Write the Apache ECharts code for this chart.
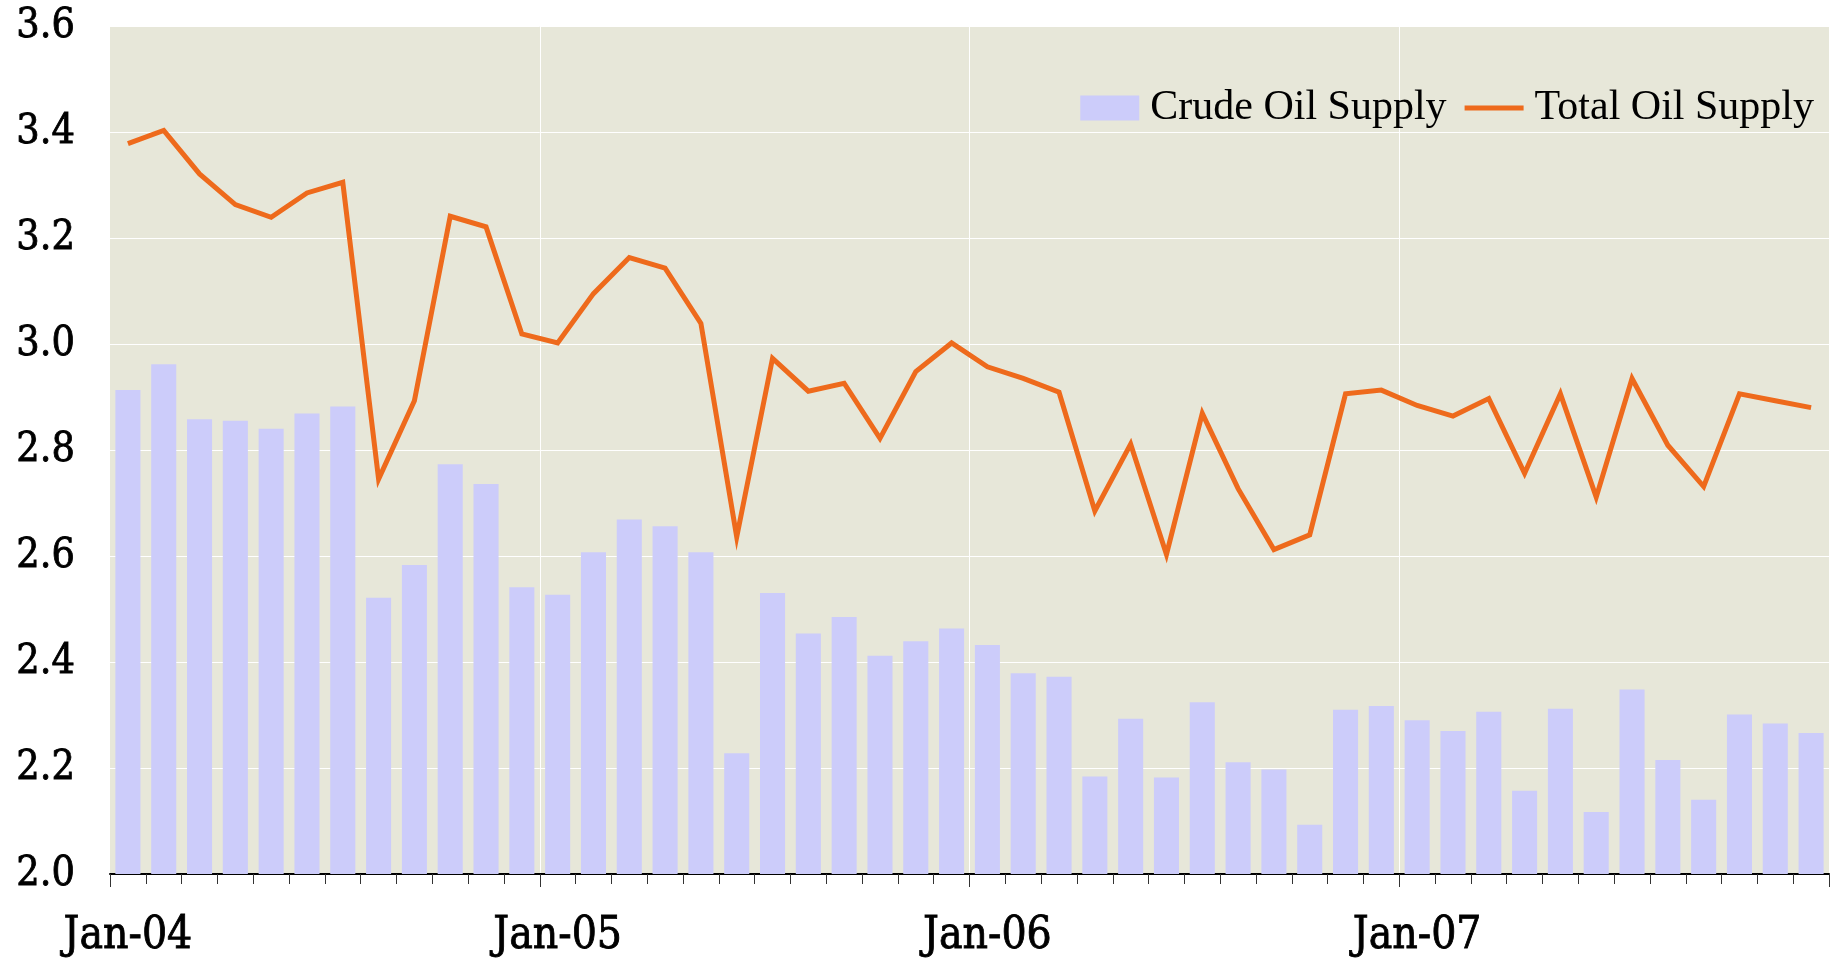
<!DOCTYPE html>
<html>
<head>
<meta charset="utf-8">
<script src="https://cdn.jsdelivr.net/npm/echarts@6/dist/echarts.min.js"></script>
<style>
html,body{margin:0;padding:0;background:#fff;}
#chart{width:1836px;height:959px;}
</style>
</head>
<body>
<div id="chart"></div>
<script>
const categories = [
 'Jan-04','Feb-04','Mar-04','Apr-04','May-04','Jun-04','Jul-04','Aug-04','Sep-04','Oct-04','Nov-04','Dec-04',
 'Jan-05','Feb-05','Mar-05','Apr-05','May-05','Jun-05','Jul-05','Aug-05','Sep-05','Oct-05','Nov-05','Dec-05',
 'Jan-06','Feb-06','Mar-06','Apr-06','May-06','Jun-06','Jul-06','Aug-06','Sep-06','Oct-06','Nov-06','Dec-06',
 'Jan-07','Feb-07','Mar-07','Apr-07','May-07','Jun-07','Jul-07','Aug-07','Sep-07','Oct-07','Nov-07','Dec-07'
];
const crudeOilSupply = [2.913,2.962,2.858,2.855,2.840,2.869,2.882,2.521,2.583,2.773,2.736,2.541,
 2.527,2.607,2.669,2.656,2.607,2.228,2.530,2.454,2.485,2.412,2.439,2.463,
 2.432,2.379,2.372,2.184,2.293,2.182,2.324,2.211,2.197,2.093,2.310,2.317,
 2.290,2.270,2.306,2.157,2.312,2.117,2.348,2.215,2.140,2.301,2.284,2.266];
const totalOilSupply = [3.378,3.403,3.321,3.263,3.239,3.285,3.305,2.745,2.893,3.241,3.221,3.019,
 3.002,3.095,3.163,3.143,3.039,2.636,2.973,2.911,2.926,2.822,2.948,3.002,
 2.957,2.935,2.909,2.685,2.811,2.603,2.869,2.727,2.612,2.640,2.906,2.913,
 2.884,2.864,2.897,2.756,2.906,2.711,2.935,2.809,2.731,2.906,2.893,2.880];
const yTicks = {min: 2.0, max: 3.6, interval: 0.2};

const FONT = "'Liberation Serif', 'Times New Roman', serif";
const AXFONT = "'DejaVu Serif Condensed', 'Liberation Serif', serif";
const chart = echarts.init(document.getElementById('chart'), null, {renderer: 'canvas'});
chart.setOption({
  animation: false,
  backgroundColor: '#ffffff',
  grid: {left: 110, right: 7, top: 26, bottom: 85, show: true, backgroundColor: '#E7E7D9', borderWidth: 0, containLabel: false, outerBoundsMode: 'none'},
  legend: {
    right: 17, top: 82,
    itemWidth: 59, itemHeight: 25, itemGap: 18, symbolKeepAspect: true,
    textStyle: {fontFamily: FONT, fontSize: 42, color: '#000', padding: [0, 0, 0, 6]},
    data: [
      {name: 'Crude Oil Supply', icon: 'rect'},
      {name: 'Total Oil Supply', icon: 'path://M0,0L61,0L61,5L0,5Z'}
    ]
  },
  xAxis: [{
    type: 'category', data: categories, boundaryGap: true, gridIndex: 0,
    axisLine: {show: true, lineStyle: {color: '#000', width: 2}},
    axisTick: {show: true, interval: 0, length: 10, lineStyle: {color: '#333', width: 1}},
    axisLabel: {interval: 11, margin: 41, fontFamily: AXFONT, fontSize: 44, color: '#000', textBorderColor: '#000', textBorderWidth: 0.8},
    splitLine: {show: true, interval: function (i) { return i > 0 && i % 12 === 0; }, lineStyle: {color: '#ffffff', width: 1}}
  }, {
    type: 'category', data: categories, boundaryGap: true, gridIndex: 0, position: 'bottom',
    axisLine: {show: false},
    axisTick: {show: true, interval: function (i) { return i % 12 === 0; }, length: 13, lineStyle: {color: '#333', width: 1}},
    axisLabel: {show: false},
    splitLine: {show: false}
  }],
  yAxis: {
    type: 'value', min: yTicks.min, max: yTicks.max, interval: yTicks.interval,
    axisLine: {show: false}, axisTick: {show: false},
    axisLabel: {margin: 35, fontFamily: AXFONT, fontSize: 41, color: '#000', textBorderColor: '#000', textBorderWidth: 0.8, formatter: function (v) { return v.toFixed(1); }},
    splitLine: {show: true, lineStyle: {color: '#ffffff', width: 1}}
  },
  series: [{
    name: 'Crude Oil Supply', type: 'bar', data: crudeOilSupply, xAxisIndex: 0,
    barCategoryGap: '30%', itemStyle: {color: '#CCCCFA'}, z: 2
  }, {
    name: 'Total Oil Supply', type: 'line', data: totalOilSupply, xAxisIndex: 0,
    symbol: 'none', lineStyle: {color: '#EE6A1C', width: 5, join: 'miter'}, itemStyle: {color: '#EE6A1C'}, z: 3
  }]
});
</script>
</body>
</html>
